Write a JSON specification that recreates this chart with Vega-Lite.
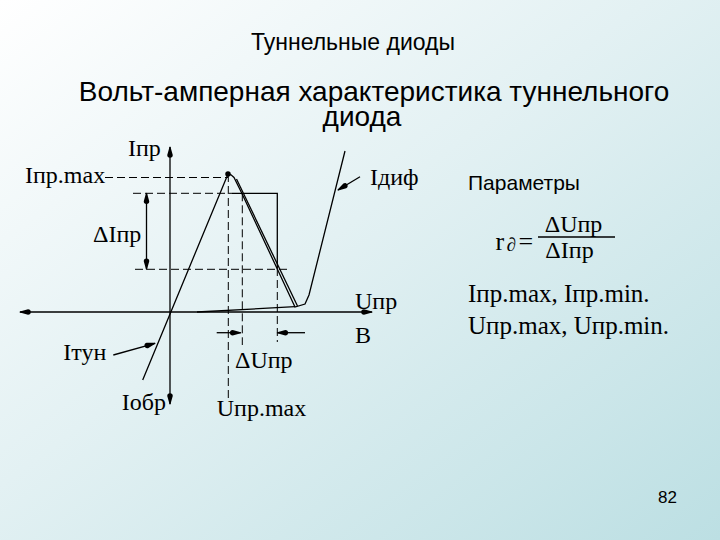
{
  "$schema": "https://vega.github.io/schema/vega-lite/v6.json",
  "width": 720,
  "height": 540,
  "autosize": {"type": "none"},
  "padding": 0,
  "config": {"view": {"stroke": null}},
  "datasets": {
    "bg": [{"u0": -170, "u1": 550, "i0": -228, "i1": 312}],
    "solid": [
      {"id": "curve", "seq": 1, "u": -27.3, "i": -68},
      {"id": "curve", "seq": 2, "u": 58, "i": 138},
      {"id": "curve", "seq": 3, "u": 61, "i": 137.2},
      {"id": "curve", "seq": 4, "u": 64, "i": 134.5},
      {"id": "curve", "seq": 5, "u": 71.7, "i": 119},
      {"id": "curve", "seq": 6, "u": 107.3, "i": 43},
      {"id": "curve", "seq": 7, "u": 125, "i": 5},
      {"id": "curve", "seq": 8, "u": 135, "i": 8},
      {"id": "curve", "seq": 9, "u": 139, "i": 17},
      {"id": "curve", "seq": 10, "u": 175, "i": 161},
      {"id": "curve2", "seq": 1, "u": 66.5, "i": 133},
      {"id": "curve2", "seq": 2, "u": 127.5, "i": 6},
      {"id": "diff", "seq": 1, "u": 27, "i": 0},
      {"id": "diff", "seq": 2, "u": 125, "i": 5.3},
      {"id": "vaxis", "seq": 1, "u": 0, "i": -92},
      {"id": "vaxis", "seq": 2, "u": 0, "i": 165},
      {"id": "haxis", "seq": 1, "u": -150, "i": 0},
      {"id": "haxis", "seq": 2, "u": 202, "i": 0},
      {"id": "box", "seq": 1, "u": 62, "i": 118.7},
      {"id": "box", "seq": 2, "u": 107.3, "i": 118.7},
      {"id": "box", "seq": 3, "u": 107.3, "i": 44},
      {"id": "dI", "seq": 1, "u": -23.5, "i": 118.7},
      {"id": "dI", "seq": 2, "u": -23.5, "i": 42.7},
      {"id": "dUl", "seq": 1, "u": 46.7, "i": -20.7},
      {"id": "dUl", "seq": 2, "u": 70.7, "i": -20.7},
      {"id": "dUr", "seq": 1, "u": 135, "i": -20.7},
      {"id": "dUr", "seq": 2, "u": 107.3, "i": -20.7},
      {"id": "tun", "seq": 1, "u": -56.7, "i": -43},
      {"id": "tun", "seq": 2, "u": -15, "i": -31.3},
      {"id": "dif", "seq": 1, "u": 190, "i": 135.3},
      {"id": "dif", "seq": 2, "u": 168, "i": 122},
      {"id": "bar", "seq": 1, "u": 368, "i": 75},
      {"id": "bar", "seq": 2, "u": 445, "i": 75}
    ],
    "dashed": [
      {"id": "d1", "seq": 1, "u": -65, "i": 134.5},
      {"id": "d1", "seq": 2, "u": 58, "i": 134.5},
      {"id": "d2", "seq": 1, "u": -37, "i": 118.7},
      {"id": "d2", "seq": 2, "u": 62, "i": 118.7},
      {"id": "d3", "seq": 1, "u": -35, "i": 42.7},
      {"id": "d3", "seq": 2, "u": 117, "i": 42.7},
      {"id": "d4", "seq": 1, "u": 58.3, "i": 138},
      {"id": "d4", "seq": 2, "u": 58.3, "i": -88},
      {"id": "d5", "seq": 1, "u": 72.3, "i": 118.7},
      {"id": "d5", "seq": 2, "u": 72.3, "i": -33},
      {"id": "d6", "seq": 1, "u": 107.3, "i": 44},
      {"id": "d6", "seq": 2, "u": 107.3, "i": -30}
    ],
    "heads": [
      {"id": "h1", "seq": 1, "pos": 0, "u": 0, "i": 165},
      {"id": "h1", "seq": 2, "pos": 1, "u": 0, "i": 157},
      {"id": "h2", "seq": 1, "pos": 0, "u": 0, "i": -92},
      {"id": "h2", "seq": 2, "pos": 1, "u": 0, "i": -84},
      {"id": "h3", "seq": 1, "pos": 0, "u": -150, "i": 0},
      {"id": "h3", "seq": 2, "pos": 1, "u": -142, "i": 0},
      {"id": "h4", "seq": 1, "pos": 0, "u": 202, "i": 0},
      {"id": "h4", "seq": 2, "pos": 1, "u": 194, "i": 0},
      {"id": "h5", "seq": 1, "pos": 0, "u": -23.5, "i": 118.7},
      {"id": "h5", "seq": 2, "pos": 1, "u": -23.5, "i": 110.7},
      {"id": "h6", "seq": 1, "pos": 0, "u": -23.5, "i": 42.7},
      {"id": "h6", "seq": 2, "pos": 1, "u": -23.5, "i": 50.7},
      {"id": "h7", "seq": 1, "pos": 0, "u": 70.7, "i": -20.7},
      {"id": "h7", "seq": 2, "pos": 1, "u": 62.7, "i": -20.7},
      {"id": "h8", "seq": 1, "pos": 0, "u": 107.3, "i": -20.7},
      {"id": "h8", "seq": 2, "pos": 1, "u": 115.3, "i": -20.7},
      {"id": "h9", "seq": 1, "pos": 0, "u": -15, "i": -31.3},
      {"id": "h9", "seq": 2, "pos": 1, "u": -22.7, "i": -33.5},
      {"id": "h10", "seq": 1, "pos": 0, "u": 168, "i": 122},
      {"id": "h10", "seq": 2, "pos": 1, "u": 174.8, "i": 126.1}
    ],
    "peak": [{"u": 58, "i": 138}],
    "axisLabels": [
      {"text": "Iпр", "u": -42, "i": 156},
      {"text": "Iпр.max", "u": -145, "i": 128.7},
      {"text": "ΔIпр", "u": -77, "i": 70.3},
      {"text": "Iдиф", "u": 200, "i": 127},
      {"text": "Uпр", "u": 185, "i": 2.7},
      {"text": "В", "u": 185, "i": -30.7},
      {"text": "Iтун", "u": -106.7, "i": -48},
      {"text": "Iобр", "u": -48.3, "i": -98},
      {"text": "ΔUпр", "u": 65, "i": -56.3},
      {"text": "Uпр.max", "u": 46.7, "i": -104}
    ],
    "fraction": [
      {"text": "ΔUпр", "u": 403.5, "i": 80},
      {"text": "ΔIпр", "u": 399.5, "i": 54}
    ],
    "formulaLeft": [
      {"text": "r", "u": 325.5, "i": 62},
      {"text": "=", "u": 348.5, "i": 62}
    ],
    "sub": [{"text": "∂", "u": 336.5, "i": 61}],
    "params": [
      {"text": "Iпр.max, Iпр.min.", "u": 298, "i": 10},
      {"text": "Uпр.max, Uпр.min.", "u": 298, "i": -22}
    ],
    "heading": [
      {"text": "Вольт-амперная характеристика туннельного", "u": 204, "i": 211},
      {"text": "диода", "u": 192, "i": 186}
    ],
    "title": [{"text": "Туннельные диоды", "u": 183, "i": 262}],
    "paramsHead": [{"text": "Параметры", "u": 298, "i": 122}],
    "page": [{"text": "82", "u": 488, "i": -191}]
  },
  "encoding": {
    "x": {"field": "u", "type": "quantitative", "scale": {"domain": [-170, 550], "nice": false, "zero": false}, "axis": null},
    "y": {"field": "i", "type": "quantitative", "scale": {"domain": [-228, 312], "nice": false, "zero": false}, "axis": null}
  },
  "layer": [
    {
      "data": {"name": "bg"},
      "mark": {
        "type": "rect",
        "strokeWidth": 0,
        "color": {
          "gradient": "linear", "x1": 0, "y1": 0, "x2": 1, "y2": 1,
          "stops": [
            {"offset": 0, "color": "#ffffff"},
            {"offset": 0.45, "color": "#e3f1f3"},
            {"offset": 1, "color": "#bcdfe3"}
          ]
        }
      },
      "encoding": {
        "x": {"field": "u0", "type": "quantitative"},
        "x2": {"field": "u1"},
        "y": {"field": "i0", "type": "quantitative"},
        "y2": {"field": "i1"}
      }
    },
    {
      "data": {"name": "dashed"},
      "mark": {"type": "line", "color": "#000000", "strokeWidth": 1, "strokeDash": [8, 4]},
      "encoding": {"detail": {"field": "id"}, "order": {"field": "seq"}}
    },
    {
      "data": {"name": "solid"},
      "mark": {"type": "line", "color": "#000000", "strokeWidth": 1.3},
      "encoding": {"detail": {"field": "id"}, "order": {"field": "seq"}}
    },
    {
      "data": {"name": "heads"},
      "mark": {"type": "trail", "color": "#000000", "opacity": 1},
      "encoding": {
        "detail": {"field": "id"},
        "order": {"field": "seq"},
        "size": {"field": "pos", "type": "quantitative", "legend": null, "scale": {"domain": [0, 1], "range": [0, 5.5], "zero": true}}
      }
    },
    {
      "data": {"name": "peak"},
      "mark": {"type": "point", "shape": "circle", "filled": true, "color": "#000000", "opacity": 1, "size": 30}
    },
    {
      "data": {"name": "axisLabels"},
      "mark": {"type": "text", "font": "Liberation Serif", "fontSize": 24, "align": "left", "baseline": "alphabetic", "color": "#000000"},
      "encoding": {"text": {"field": "text"}}
    },
    {
      "data": {"name": "fraction"},
      "mark": {"type": "text", "font": "Liberation Serif", "fontSize": 24, "align": "center", "baseline": "alphabetic", "color": "#000000"},
      "encoding": {"text": {"field": "text"}}
    },
    {
      "data": {"name": "formulaLeft"},
      "mark": {"type": "text", "font": "Liberation Serif", "fontSize": 26, "align": "left", "baseline": "alphabetic", "color": "#000000"},
      "encoding": {"text": {"field": "text"}}
    },
    {
      "data": {"name": "sub"},
      "mark": {"type": "text", "font": "Liberation Serif", "fontSize": 19, "fontStyle": "italic", "align": "left", "baseline": "alphabetic", "color": "#000000"},
      "encoding": {"text": {"field": "text"}}
    },
    {
      "data": {"name": "params"},
      "mark": {"type": "text", "font": "Liberation Serif", "fontSize": 25, "align": "left", "baseline": "alphabetic", "color": "#000000"},
      "encoding": {"text": {"field": "text"}}
    },
    {
      "data": {"name": "heading"},
      "mark": {"type": "text", "font": "Liberation Sans", "fontSize": 28, "align": "center", "baseline": "alphabetic", "color": "#000000"},
      "encoding": {"text": {"field": "text"}}
    },
    {
      "data": {"name": "title"},
      "mark": {"type": "text", "font": "Liberation Sans", "fontSize": 23, "align": "center", "baseline": "alphabetic", "color": "#000000"},
      "encoding": {"text": {"field": "text"}}
    },
    {
      "data": {"name": "paramsHead"},
      "mark": {"type": "text", "font": "Liberation Sans", "fontSize": 21, "align": "left", "baseline": "alphabetic", "color": "#000000"},
      "encoding": {"text": {"field": "text"}}
    },
    {
      "data": {"name": "page"},
      "mark": {"type": "text", "font": "Liberation Sans", "fontSize": 17, "align": "left", "baseline": "alphabetic", "color": "#000000"},
      "encoding": {"text": {"field": "text"}}
    }
  ]
}
